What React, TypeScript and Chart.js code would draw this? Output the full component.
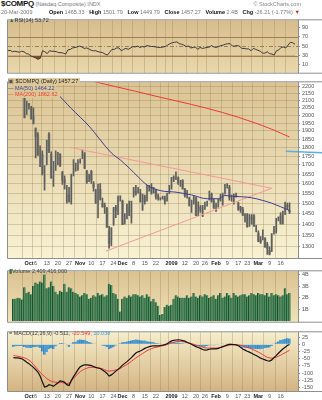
import React, { useEffect, useRef } from 'react';
import { Chart, registerables } from 'chart.js';

Chart.register(...registerables);

const FONT = '"Liberation Sans", Arial, Helvetica, sans-serif';

// ---------------- data (trading days 22-Sep-2008 .. 20-Mar-2009, index 0..124) ----------------
const tickDays = [5, 7, 10, 15, 20, 25, 30, 35, 40, 45, 49, 54, 59, 64, 68, 71, 77, 82, 86, 91, 96, 101, 105, 110, 115, 120];
const tickText = ['', 'Oct', '6', '13', '20', '27', 'Nov', '10', '17', '24', 'Dec', '8', '15', '22', '', '2009', '12', '20', '26', 'Feb', '9', '17', '23', 'Mar', '9', '16'];
const labelOnlyDays = [7];

const opens = [2265, 2185, 2160, 2165, 2160, 2150, 2010, 2075, 2055, 1995, 1915, 1875, 1690, 1760, 1605, 1700, 1880, 1760, 1640, 1690, 1725, 1760, 1660, 1620, 1510, 1540, 1520, 1650, 1690, 1680, 1720, 1745, 1765, 1665, 1625, 1665, 1600, 1560, 1500, 1570, 1500, 1490, 1475, 1370, 1330, 1400, 1480, 1450, 1525, 1510, 1410, 1430, 1480, 1430, 1540, 1560, 1565, 1550, 1470, 1535, 1515, 1580, 1580, 1555, 1565, 1535, 1520, 1525, 1530, 1515, 1550, 1578, 1630, 1635, 1630, 1595, 1615, 1570, 1535, 1525, 1485, 1520, 1525, 1450, 1480, 1440, 1480, 1495, 1520, 1545, 1510, 1465, 1495, 1520, 1505, 1550, 1590, 1580, 1525, 1515, 1540, 1500, 1480, 1470, 1420, 1445, 1395, 1430, 1440, 1370, 1360, 1330, 1340, 1335, 1310, 1285, 1285, 1365, 1370, 1425, 1440, 1405, 1455, 1490, 1465.33];
const highs = [2270, 2200, 2175, 2210, 2190, 2170, 2095, 2080, 2060, 2050, 1920, 1890, 1810, 1780, 1697, 1844, 1890, 1775, 1720, 1780, 1772, 1765, 1665, 1640, 1590, 1580, 1650, 1730, 1710, 1730, 1735, 1785, 1770, 1670, 1650, 1670, 1610, 1570, 1597, 1600, 1525, 1500, 1480, 1390, 1385, 1480, 1490, 1535, 1537, 1515, 1450, 1495, 1510, 1510, 1580, 1590, 1580, 1570, 1545, 1540, 1590, 1590, 1600, 1580, 1570, 1545, 1528, 1535, 1535, 1551, 1590, 1632, 1640, 1662, 1635, 1617, 1620, 1575, 1565, 1530, 1515, 1535, 1530, 1507, 1490, 1490, 1505, 1510, 1560, 1550, 1520, 1500, 1520, 1545, 1550, 1595, 1600, 1590, 1540, 1545, 1550, 1505, 1485, 1480, 1450, 1450, 1445, 1445, 1445, 1395, 1370, 1345, 1375, 1340, 1320, 1300, 1358, 1390, 1427, 1435, 1455, 1462, 1505, 1500, 1501.79];
const lows = [2178, 2150, 2145, 2160, 2150, 1983, 2005, 2040, 1975, 1945, 1740, 1754, 1690, 1645, 1565, 1700, 1770, 1628, 1585, 1670, 1700, 1690, 1595, 1570, 1500, 1505, 1495, 1640, 1665, 1670, 1710, 1735, 1680, 1600, 1610, 1600, 1560, 1499, 1429, 1515, 1480, 1450, 1386, 1295, 1305, 1395, 1430, 1445, 1510, 1398, 1400, 1425, 1440, 1405, 1530, 1540, 1550, 1505, 1465, 1495, 1510, 1560, 1545, 1550, 1520, 1515, 1515, 1520, 1495, 1510, 1548, 1571, 1610, 1620, 1595, 1585, 1570, 1530, 1525, 1485, 1455, 1495, 1440, 1440, 1455, 1435, 1470, 1485, 1515, 1505, 1475, 1460, 1480, 1510, 1490, 1545, 1575, 1515, 1510, 1495, 1530, 1465, 1455, 1440, 1410, 1387, 1390, 1400, 1390, 1365, 1322, 1315, 1330, 1298, 1268, 1266, 1280, 1355, 1360, 1415, 1400, 1400, 1445, 1470, 1449.79];
const closes = [2179, 2153, 2156, 2187, 2183, 1984, 2092, 2069, 1977, 1947, 1863, 1755, 1740, 1645, 1650, 1844, 1779, 1628, 1718, 1711, 1770, 1697, 1616, 1604, 1552, 1506, 1649, 1657, 1699, 1721, 1726, 1780, 1682, 1609, 1647, 1617, 1581, 1499, 1597, 1517, 1482, 1483, 1386, 1316, 1384, 1472, 1465, 1532, 1536, 1398, 1450, 1492, 1446, 1509, 1572, 1547, 1566, 1508, 1541, 1508, 1590, 1579, 1552, 1564, 1532, 1522, 1525, 1530, 1510, 1551, 1577, 1632, 1628, 1652, 1599, 1617, 1572, 1539, 1546, 1490, 1512, 1529, 1441, 1507, 1465, 1477, 1489, 1505, 1558, 1508, 1476, 1494, 1516, 1515, 1546, 1592, 1592, 1525, 1530, 1542, 1534, 1471, 1468, 1443, 1441, 1388, 1442, 1425, 1391, 1378, 1323, 1321, 1354, 1300, 1294, 1269, 1358, 1372, 1426, 1432, 1404, 1462, 1491, 1483, 1457.27];

const volumeB = [1.9, 1.9, 2.0, 1.95, 1.85, 2.9, 2.4, 2.5, 2.3, 3.0, 3.3, 3.2, 3.4, 3.3, 4.0, 2.8, 2.9, 3.4, 3.0, 2.5, 2.3, 2.6, 2.5, 3.2, 2.5, 2.9, 2.8, 2.5, 2.4, 2.3, 2.1, 2.2, 2.4, 2.3, 1.9, 2.0, 2.2, 2.1, 2.4, 2.2, 2.3, 2.1, 2.2, 3.2, 3.1, 2.4, 2.3, 1.9, 0.8, 1.9, 2.1, 2.0, 2.2, 2.1, 2.3, 2.3, 2.2, 2.1, 2.2, 2.0, 2.3, 2.1, 1.7, 1.9, 1.6, 1.3, 0.5, 0.6, 1.2, 1.4, 1.3, 1.4, 1.9, 2.2, 2.1, 2.0, 2.0, 2.0, 2.2, 2.0, 2.1, 2.4, 2.1, 2.0, 2.2, 2.1, 2.3, 2.2, 2.0, 2.1, 2.2, 1.9, 2.2, 2.4, 2.0, 2.1, 2.4, 2.2, 2.0, 2.4, 2.2, 2.1, 2.2, 2.3, 2.3, 2.1, 2.2, 2.4, 2.3, 2.2, 2.4, 2.3, 2.3, 2.2, 2.4, 2.1, 2.4, 2.2, 2.3, 2.2, 2.1, 2.2, 2.8, 2.3, 2.41];
const volumeText = '2,409,416,000';

const rsi14 = [40, 41, 38, 39, 38, 37, 39, 38, 34, 33, 29, 27, 25, 22, 24, 40, 38, 34, 40, 39, 39, 38, 36, 36, 35, 33, 42, 43, 46, 47, 48, 50, 48, 45, 46, 44, 41, 40, 40, 38, 37, 36, 33, 31, 37, 43, 43, 46, 46, 40, 43, 45, 43, 46, 49, 48, 50, 47, 49, 48, 51, 50, 49, 49, 48, 47, 47, 48, 49, 52, 55, 57, 58, 59, 55, 54, 52, 49, 50, 46, 47, 48, 43, 47, 45, 46, 47, 48, 51, 48, 47, 49, 51, 52, 54, 55, 55, 50, 50, 51, 50, 45, 45, 44, 44, 40, 45, 43, 41, 39, 35, 35, 38, 34, 33, 31, 40, 42, 47, 48, 46, 52, 58, 57, 53.72];

const macdLine = [-46, -47, -47, -49, -51, -56, -62, -67, -74, -80, -88, -96, -110, -130, -148, -146, -140, -142, -146, -139, -134, -127, -128, -132, -140, -143, -126, -112, -101, -88, -78, -74, -71, -71, -72, -74, -77, -80, -82, -84, -89, -94, -101, -110, -106, -100, -93, -87, -80, -72, -66, -60, -53, -46, -38, -30, -26, -23, -19, -14, -11, -8, -6, -5, -5, -5, -4, -3, -1, 2, 7, 12, 14, 15, 16, 15, 13, 11, 7, 4, 0, -4, -8, -11, -14, -18, -20, -19, -17, -16, -16, -16, -14, -11, -8, -5, -2, 0, 0, -1, -2, -5, -10, -16, -20, -24, -27, -31, -35, -39, -43, -48, -51, -54, -57, -58, -54, -46, -39, -31, -23, -16, -10, -4, -0.511];
const signalLine = [-38, -40, -41, -43, -45, -47, -50, -55, -61, -70, -79, -88, -97, -105, -112, -119, -124, -128, -130, -132, -132, -132, -133, -135, -137, -134, -127, -119, -110, -102, -95, -90, -86, -83, -80, -80, -80, -81, -82, -83, -85, -88, -92, -93, -92, -91, -89, -87, -84, -79, -74, -70, -65, -59, -53, -47, -42, -37, -32, -27, -22, -18, -15, -12, -10, -9, -7, -5, -3, -1, 2, 5, 7, 9, 10, 10, 9, 8, 6, 4, 2, 0, -3, -5, -7, -10, -12, -13, -13, -13, -13, -13, -12, -11, -9, -7, -5, -3, -2, -1, -1, -2, -3, -5, -8, -11, -13, -16, -20, -23, -27, -31, -36, -41, -45, -47, -48, -47, -45, -41, -38, -33, -29, -25, -20.549];

const ma50Days = [8, 13, 19, 26, 34, 44, 48, 52, 56, 60, 66, 73, 80, 87, 92, 95, 100, 105, 109, 116, 124];
const ma50Vals = [2300, 2228, 2156, 2045, 1930, 1768, 1728, 1683, 1635, 1592, 1563, 1555, 1541, 1522, 1522, 1538, 1533, 1530, 1522, 1500, 1464.22];
const ma200Days = [30, 37, 45, 55, 65, 73, 80, 87, 94, 101, 108, 116, 124];
const ma200Vals = [2256, 2230, 2200, 2163, 2125, 2097, 2072, 2046, 2018, 1987, 1953, 1911, 1862.62];

const trendUpperDays = [25.5, 116];
const trendUpperVals = [1800, 1575];
const trendLowerDays = [41.5, 116];
const trendLowerVals = [1282, 1575];
const markerFromDay = 122.3;
const markerPrice = 1778;

const rsiTicks = [90, 70, 50, 30, 10];
const priceTicks = [1300, 1350, 1400, 1450, 1500, 1550, 1600, 1650, 1700, 1750, 1800, 1850, 1900, 1950, 2000, 2050, 2100, 2150, 2200];
const volTicks = [1, 2, 3, 4];
const macdTicks = [25, 0, -25, -50, -75, -100, -125, -150];

// ---------------- chart helpers ----------------
const X_MIN = 0.09;
const X_MAX = 125.29;
const GRID = 'rgba(150,128,84,0.33)';

const labelFor = (v: number) => {
  const k = tickDays.indexOf(v);
  return k >= 0 ? tickText[k] : '';
};
const isBold = (t: string) => t !== '' && (isNaN(Number(t)) || t.length === 4);

function xAxis(showLabels: boolean) {
  return {
    type: 'linear',
    position: 'bottom',
    min: X_MIN,
    max: X_MAX,
    afterBuildTicks: (s: any) => {
      s.ticks = tickDays.map((v) => ({ value: v }));
    },
    afterFit: (s: any) => {
      s.height = showLabels ? 9 : 0;
    },
    border: { display: false },
    grid: {
      drawTicks: false,
      lineWidth: 1,
      color: (c: any) => (c.tick && labelOnlyDays.includes(c.tick.value) ? 'rgba(0,0,0,0)' : GRID),
    },
    ticks: {
      display: showLabels,
      autoSkip: false,
      maxRotation: 0,
      minRotation: 0,
      padding: 2,
      color: (c: any) => (c.tick && isBold(labelFor(c.tick.value)) ? '#222' : '#555'),
      font: (c: any) => ({
        family: FONT,
        size: 5.5,
        weight: c.tick && isBold(labelFor(c.tick.value)) ? 'bold' : 'normal',
      }),
      callback: (v: number) => labelFor(v),
    },
  };
}

function yAxis(kind: string, min: number, max: number, ticks: number[], fmt: (v: number) => string, gridOn: boolean) {
  return {
    type: kind,
    position: 'right',
    min,
    max,
    afterBuildTicks: (s: any) => {
      s.ticks = ticks.map((v) => ({ value: v }));
    },
    afterFit: (s: any) => {
      s.width = 24;
    },
    border: { display: false },
    grid: { drawOnChartArea: gridOn, drawTicks: true, tickLength: 2, color: GRID, tickColor: '#9a9a9a' },
    ticks: { autoSkip: false, color: '#555', padding: 2, font: { family: FONT, size: 5.5 }, callback: fmt },
  };
}

const panelPlugin: any = {
  id: 'panel',
  beforeDraw(chart: any, _a: any, opts: any) {
    const { ctx, chartArea: a } = chart;
    const g = ctx.createLinearGradient(0, a.top, 0, a.bottom);
    g.addColorStop(0, opts.top);
    g.addColorStop(1, opts.bottom);
    ctx.save();
    ctx.fillStyle = g;
    ctx.fillRect(a.left, a.top, a.right - a.left, a.bottom - a.top);
    ctx.restore();
  },
  afterDraw(chart: any) {
    const { ctx, chartArea: a, width } = chart;
    const l = a.left - 0.5;
    const r = a.right + 0.5;
    const t = a.top - 0.5;
    const b = a.bottom + 0.5;
    ctx.save();
    ctx.strokeStyle = '#8e8e8e';
    ctx.lineWidth = 1;
    ctx.beginPath();
    ctx.moveTo(l, t);
    ctx.lineTo(width, t);
    ctx.moveTo(l, b);
    ctx.lineTo(width, b);
    ctx.moveTo(l, t);
    ctx.lineTo(l, b);
    ctx.moveTo(r, t);
    ctx.lineTo(r, b);
    ctx.stroke();
    ctx.restore();
  },
};

const refLinePlugin: any = {
  id: 'refLines',
  beforeDatasetsDraw(chart: any, _a: any, opts: any) {
    const { ctx, chartArea: a, scales } = chart;
    if (!opts.lines) return;
    ctx.save();
    for (const ln of opts.lines) {
      const y = Math.round(scales.y.getPixelForValue(ln.value)) + 0.5;
      ctx.strokeStyle = ln.color;
      ctx.lineWidth = 1;
      ctx.setLineDash(ln.dash || []);
      ctx.beginPath();
      ctx.moveTo(a.left, y);
      ctx.lineTo(a.right, y);
      ctx.stroke();
    }
    ctx.restore();
  },
};

const markerPlugin: any = {
  id: 'marker',
  afterDatasetsDraw(chart: any, _a: any, opts: any) {
    if (opts.price == null) return;
    const { ctx, scales, width } = chart;
    const y = scales.y.getPixelForValue(opts.price);
    const x = scales.x.getPixelForValue(opts.fromDay);
    ctx.save();
    ctx.strokeStyle = '#58b0e4';
    ctx.lineWidth = 1.3;
    ctx.beginPath();
    ctx.moveTo(x, y);
    ctx.lineTo(width, y + 1.5);
    ctx.stroke();
    ctx.restore();
  },
};

function baseOptions(scales: any, pluginOpts: any, padTop: number) {
  return {
    responsive: false,
    maintainAspectRatio: false,
    animation: false,
    devicePixelRatio: 1,
    events: [],
    layout: { padding: { left: 8, right: 0, top: padTop, bottom: 0 }, autoPadding: false },
    plugins: { legend: { display: false }, tooltip: { enabled: false }, ...pluginOpts },
    scales,
  };
}

const lineDs = (data: any[], color: string, width: number, order: number, extra: any = {}) => ({
  type: 'line',
  data,
  borderColor: color,
  borderWidth: width,
  pointRadius: 0,
  fill: false,
  order,
  ...extra,
});

export default function App() {
  const rsiRef = useRef<HTMLCanvasElement>(null);
  const priceRef = useRef<HTMLCanvasElement>(null);
  const volRef = useRef<HTMLCanvasElement>(null);
  const macdRef = useRef<HTMLCanvasElement>(null);

  useEffect(() => {
    document.body.style.margin = '0';
    const charts: Chart[] = [];

    charts.push(
      new Chart(rsiRef.current as HTMLCanvasElement, {
        type: 'line',
        data: {
          datasets: [
            lineDs(rsi14.map((v, i) => ({ x: i, y: v })), '#3a3a3a', 1, 1, {
              fill: { target: { value: 30 }, above: 'rgba(0,0,0,0)', below: '#8d4a2b' },
            }),
          ],
        },
        options: baseOptions(
          { x: xAxis(false), y: yAxis('linear', -6.4, 104.5, rsiTicks, (v) => String(v), false) },
          {
            panel: { top: '#d8bd8c', bottom: '#e9d8ab' },
            refLines: {
              lines: [
                { value: 70, color: '#9c7f55' },
                { value: 50, color: '#9c7f55', dash: [4, 2, 1, 2] },
                { value: 30, color: '#9c7f55' },
              ],
            },
          },
          1
        ),
        plugins: [panelPlugin, refLinePlugin],
      } as any)
    );

    charts.push(
      new Chart(priceRef.current as HTMLCanvasElement, {
        type: 'bar',
        data: {
          datasets: [
            {
              type: 'bar',
              data: opens.map((o, i) => ({ x: i, y: [Math.min(o, closes[i]), Math.max(o, closes[i])] })),
              backgroundColor: opens.map((o, i) => (closes[i] >= o ? '#d2cebb' : '#9b998e')),
              barThickness: 2,
              grouped: false,
              order: 6,
            },
            {
              type: 'bar',
              data: lows.map((l, i) => ({ x: i, y: [l, highs[i]] })),
              backgroundColor: '#5e5e5a',
              barThickness: 1,
              grouped: false,
              order: 5,
            },
            lineDs(
              trendUpperDays.map((d, i) => ({ x: d, y: trendUpperVals[i] })),
              '#f39a94',
              1,
              3
            ),
            lineDs(
              trendLowerDays.map((d, i) => ({ x: d, y: trendLowerVals[i] })),
              '#f39a94',
              1,
              3
            ),
            lineDs(
              ma200Days.map((d, i) => ({ x: d, y: ma200Vals[i] })),
              '#ec3a36',
              1,
              2,
              { cubicInterpolationMode: 'monotone' }
            ),
            lineDs(
              ma50Days.map((d, i) => ({ x: d, y: ma50Vals[i] })),
              '#3b3d96',
              1,
              1,
              { cubicInterpolationMode: 'monotone' }
            ),
          ],
        },
        options: baseOptions(
          {
            x: xAxis(true),
            y: yAxis('logarithmic', 1253.6, 2228, priceTicks, (v) => String(v), true),
          },
          {
            panel: { top: '#dbc393', bottom: '#f8f2d3' },
            marker: { price: markerPrice, fromDay: markerFromDay },
          },
          1
        ),
        plugins: [panelPlugin, markerPlugin],
      } as any)
    );

    charts.push(
      new Chart(volRef.current as HTMLCanvasElement, {
        type: 'bar',
        data: {
          datasets: [
            {
              type: 'bar',
              data: volumeB.map((v, i) => ({ x: i, y: v })),
              backgroundColor: '#4f9163',
              borderColor: '#1d4d2b',
              borderWidth: { left: 1, right: 0, top: 0, bottom: 0 },
              borderSkipped: false,
              barPercentage: 1,
              categoryPercentage: 1,
            },
          ],
        },
        options: baseOptions(
          { x: xAxis(false), y: yAxis('linear', -0.07, 4.27, volTicks, (v) => v + 'B', false) },
          { panel: { top: '#dbc291', bottom: '#efe2b8' } },
          1
        ),
        plugins: [panelPlugin],
      } as any)
    );

    charts.push(
      new Chart(macdRef.current as HTMLCanvasElement, {
        type: 'bar',
        data: {
          datasets: [
            {
              type: 'bar',
              data: macdLine.map((m, i) => ({ x: i, y: m - signalLine[i] })),
              backgroundColor: '#4aa0dc',
              borderColor: '#2a6c9c',
              borderWidth: { left: 0.6, right: 0, top: 0, bottom: 0 },
              borderSkipped: false,
              barPercentage: 1,
              categoryPercentage: 1,
              order: 5,
            },
            lineDs(signalLine.map((v, i) => ({ x: i, y: v })), '#ef3b36', 1, 2),
            lineDs(macdLine.map((v, i) => ({ x: i, y: v })), '#111111', 1.2, 1),
          ],
        },
        options: baseOptions(
          { x: xAxis(true), y: yAxis('linear', -162, 41.8, macdTicks, (v) => String(v), false) },
          { panel: { top: '#f5edcb', bottom: '#d4b482' } },
          2
        ),
        plugins: [panelPlugin],
      } as any)
    );

    return () => charts.forEach((c) => c.destroy());
  }, []);

  const last = closes.length - 1;
  const hist = (macdLine[last] - signalLine[last]).toFixed(3);
  const abs = (top: number, h: number): React.CSSProperties => ({
    position: 'absolute',
    left: 0,
    top,
    width: 322,
    height: h,
  });
  const legendLine: React.CSSProperties = {
    display: 'inline-block',
    background: 'rgba(221,200,152,0.96)',
    paddingRight: 2,
    height: 6.5,
    lineHeight: '6.5px',
  };

  return (
    <div
      style={{
        position: 'relative',
        width: 322,
        height: 400,
        overflow: 'hidden',
        background: '#ffffff',
        fontFamily: FONT,
      }}
    >
      <style>{'body{margin:0}'}</style>
      <canvas ref={rsiRef} width={322} height={63} style={abs(15, 63)} />
      <canvas ref={priceRef} width={322} height={190} style={abs(77, 190)} />
      <canvas ref={volRef} width={322} height={61} style={abs(266, 61)} />
      <canvas ref={macdRef} width={322} height={73} style={abs(327, 73)} />

      {/* header */}
      <div style={{ position: 'absolute', left: 1, top: 0, whiteSpace: 'nowrap', fontSize: 5.5, color: '#777', lineHeight: '8px' }}>
        <span style={{ fontSize: 8, fontWeight: 'bold', color: '#111', letterSpacing: -0.3 }}>$COMPQ</span> (Nasdaq Composite) INDX
      </div>
      <div style={{ position: 'absolute', right: 21, top: 1, whiteSpace: 'nowrap', fontSize: 5.5, color: '#888', lineHeight: '7px' }}>
        © StockCharts.com
      </div>
      <div style={{ position: 'absolute', left: 1, top: 8.5, whiteSpace: 'nowrap', fontSize: 5.5, color: '#777', lineHeight: '7px' }}>
        20-Mar-2009
      </div>
      <div
        style={{
          position: 'absolute',
          left: 49,
          right: 22,
          top: 8.5,
          display: 'flex',
          justifyContent: 'space-between',
          whiteSpace: 'nowrap',
          fontSize: 5.5,
          color: '#777',
          lineHeight: '7px',
        }}
      >
        <span>
          <b style={{ color: '#111' }}>Open</b> {opens[last].toFixed(2)}
        </span>
        <span>
          <b style={{ color: '#111' }}>High</b> {highs[last].toFixed(2)}
        </span>
        <span>
          <b style={{ color: '#111' }}>Low</b> {lows[last].toFixed(2)}
        </span>
        <span>
          <b style={{ color: '#111' }}>Close</b> {closes[last].toFixed(2)}
        </span>
        <span>
          <b style={{ color: '#111' }}>Volume</b> {volumeB[last].toFixed(1)}B
        </span>
        <span>
          <b style={{ color: '#111' }}>Chg</b> -26.21 (-1.77%) <span style={{ color: '#d21f1f' }}>▼</span>
        </span>
      </div>

      {/* RSI legend */}
      <div style={{ position: 'absolute', left: 9, top: 16.5, whiteSpace: 'nowrap', fontSize: 5.5, color: '#333', lineHeight: '6px' }}>
        <span style={{ color: '#3b6e3a' }}>▲</span>RSI(14) {rsi14[last].toFixed(2)}
      </div>

      {/* price legend */}
      <div style={{ position: 'absolute', left: 8, top: 78, whiteSpace: 'nowrap', fontSize: 5.5 }}>
        <div>
          <span style={{ ...legendLine, color: '#222' }}>
            <span style={{ color: '#555' }}>▣</span> $COMPQ (Daily) {closes[last].toFixed(2)}
          </span>
        </div>
        <div>
          <span style={{ ...legendLine, color: '#3b3d96' }}>— MA(50) {ma50Vals[ma50Vals.length - 1].toFixed(2)}</span>
        </div>
        <div>
          <span style={{ ...legendLine, color: '#ec3a36' }}>— MA(200) {ma200Vals[ma200Vals.length - 1].toFixed(2)}</span>
        </div>
      </div>

      {/* volume legend */}
      <div style={{ position: 'absolute', left: 9, top: 267.5, whiteSpace: 'nowrap', fontSize: 5.5, color: '#444', lineHeight: '6px' }}>
        <span style={{ color: '#2f6b3f' }}>▮</span>Volume {volumeText}
      </div>

      {/* MACD legend */}
      <div style={{ position: 'absolute', left: 9, top: 329.5, whiteSpace: 'nowrap', fontSize: 5.5, color: '#444', lineHeight: '6px' }}>
        = MACD(12,26,9) {macdLine[last].toFixed(3)},{' '}
        <span style={{ color: '#ef3b36' }}>{signalLine[last].toFixed(3)},</span>{' '}
        <span style={{ color: '#4aa0dc' }}>{hist}</span>
      </div>
    </div>
  );
}
